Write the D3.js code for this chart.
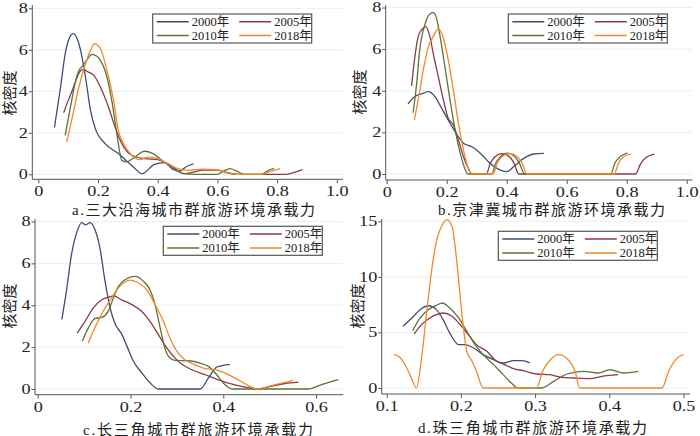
<!DOCTYPE html>
<html lang="zh">
<head>
<meta charset="UTF-8">
<title>核密度</title>
<script src="https://d3js.org/d3.v7.min.js"></script>
<style>
  body { margin: 0; background: #fff; }
  svg { display: block; }
  .tick text { font-family: "Liberation Serif", "DejaVu Serif", serif; font-size: 14px; fill: #222; }
  .tick line { stroke: #555; }
  .axis-line { stroke: #555; stroke-width: 1; }
  .grid { stroke: #eeeeee; stroke-width: 1; }
  .ylab, .title { font-family: "Liberation Serif", "Noto Sans CJK SC", serif; fill: #222; }
  .legend text { font-family: "Liberation Serif", "Noto Sans CJK SC", serif; font-size: 12.5px; fill: #222; }
  .legend rect { fill: #fff; stroke: #555; stroke-width: 1.2; }
</style>
</head>
<body>
<svg width="700" height="436"></svg>
<script>
// series names and colours
const years = ["2000年", "2005年", "2010年", "2018年"];
const colors = ["#3d4f73", "#8a3a48", "#5a7535", "#f0892a"];

// a. 三大沿海城市群  [x, density]
const a2000 = [[0.054,2.25],[0.073,4.05],[0.092,5.96],[0.105,6.6],[0.117,6.78],[0.13,6.55],[0.142,5.96],[0.158,4.69],[0.175,3.08],[0.191,2.2],[0.224,1.48],[0.268,1.0],[0.313,0.43],[0.348,0.03],[0.389,0.48],[0.422,0.56],[0.45,0.25],[0.47,0.15],[0.5,0.4],[0.52,0.5]];
const a2005 = [[0.085,2.97],[0.1,3.55],[0.114,4.05],[0.128,4.6],[0.142,5.0],[0.152,5.06],[0.165,4.95],[0.186,4.77],[0.213,4.05],[0.235,3.24],[0.257,2.28],[0.28,1.48],[0.313,0.92],[0.356,0.76],[0.4,0.71],[0.444,0.43],[0.488,0.03],[0.52,0.1],[0.55,0.2],[0.6,0.2],[0.64,0.05],[0.67,0],[0.83,0],[0.86,0.1],[0.885,0.22]];
const a2010 = [[0.09,1.88],[0.102,2.8],[0.114,3.73],[0.125,4.5],[0.136,5.0],[0.147,5.2],[0.162,5.5],[0.18,5.78],[0.195,5.7],[0.208,5.49],[0.23,4.69],[0.246,3.57],[0.263,1.96],[0.28,0.67],[0.296,0.6],[0.323,0.83],[0.356,1.11],[0.384,1.0],[0.422,0.59],[0.455,0.27],[0.488,0.03],[0.52,0],[0.6,0],[0.62,0.15],[0.643,0.27],[0.665,0.15],[0.69,0],[0.747,0],[0.77,0.18],[0.79,0.28]];
const a2018 = [[0.095,1.56],[0.114,2.76],[0.136,4.2],[0.158,5.33],[0.175,5.98],[0.189,6.3],[0.2,6.2],[0.208,6.06],[0.23,5.0],[0.252,3.57],[0.268,2.12],[0.285,1.48],[0.313,0.92],[0.34,0.71],[0.367,0.83],[0.4,0.76],[0.433,0.51],[0.466,0.28],[0.5,0.19],[0.55,0.25],[0.6,0.22],[0.63,0.1],[0.66,0],[0.75,0],[0.78,0.15],[0.81,0.28]];

// b. 京津冀城市群
const b2000 = [[0.071,3.37],[0.094,3.72],[0.116,3.85],[0.139,3.96],[0.161,3.72],[0.183,3.16],[0.205,2.6],[0.228,2.03],[0.256,1.48],[0.284,1.31],[0.312,1.0],[0.345,0.51],[0.379,0.19],[0.4,0.11],[0.423,0.35],[0.457,0.75],[0.49,0.96],[0.524,0.99]];
const b2005 = [[0.083,4.23],[0.094,5.64],[0.105,6.6],[0.116,6.92],[0.13,7.08],[0.144,6.6],[0.155,5.8],[0.172,4.68],[0.189,3.56],[0.205,2.68],[0.222,2.36],[0.239,1.63],[0.256,0.83],[0.272,0.27],[0.284,0],[0.332,0],[0.345,0.5],[0.36,0.82],[0.385,0.98],[0.41,0.82],[0.425,0.5],[0.44,0],[0.83,0],[0.845,0.45],[0.865,0.8],[0.892,0.96]];
const b2010 = [[0.088,2.95],[0.1,4.36],[0.11,5.96],[0.127,7.16],[0.144,7.69],[0.155,7.75],[0.166,7.49],[0.178,6.6],[0.194,5.16],[0.211,3.56],[0.228,2.12],[0.245,1.0],[0.262,0.2],[0.27,0],[0.35,0],[0.363,0.5],[0.378,0.82],[0.403,1.0],[0.428,0.82],[0.443,0.5],[0.46,0],[0.747,0],[0.76,0.5],[0.78,0.85],[0.803,1.02]];
const b2018 = [[0.092,2.6],[0.105,3.56],[0.122,5.0],[0.139,6.12],[0.155,6.6],[0.172,6.97],[0.189,6.52],[0.205,5.48],[0.222,4.04],[0.239,2.44],[0.256,1.15],[0.272,0.27],[0.284,0],[0.355,0],[0.368,0.5],[0.383,0.82],[0.41,0.98],[0.437,0.82],[0.452,0.5],[0.468,0],[0.758,0],[0.772,0.5],[0.792,0.85],[0.814,0.95]];

// c. 长三角城市群
const c2000 = [[0.052,3.33],[0.062,4.69],[0.073,6.44],[0.084,7.47],[0.095,7.95],[0.103,7.84],[0.113,7.95],[0.123,7.63],[0.134,6.75],[0.145,5.16],[0.156,3.88],[0.167,3.1],[0.181,2.62],[0.192,2.06],[0.206,1.34],[0.224,0.78],[0.242,0.3],[0.26,0],[0.35,0],[0.368,0.53],[0.386,1.05],[0.4,1.13],[0.414,1.16]];
const c2005 = [[0.085,2.67],[0.102,3.23],[0.12,3.87],[0.138,4.26],[0.156,4.41],[0.163,4.45],[0.181,4.26],[0.203,4.03],[0.224,3.71],[0.242,3.23],[0.26,2.6],[0.278,1.96],[0.303,1.32],[0.332,0.92],[0.361,0.68],[0.389,0.44],[0.425,0.2],[0.45,0.08],[0.472,0],[0.5,0.12],[0.53,0.25],[0.562,0.33]];
const c2010 = [[0.096,2.28],[0.109,2.91],[0.123,3.36],[0.138,3.42],[0.152,3.71],[0.163,4.35],[0.174,4.9],[0.188,5.22],[0.21,5.38],[0.228,5.14],[0.242,4.74],[0.253,4.03],[0.264,2.91],[0.274,1.96],[0.285,1.48],[0.296,1.37],[0.325,1.35],[0.35,1.24],[0.368,1.08],[0.386,0.68],[0.4,0.29],[0.42,0],[0.583,0],[0.61,0.2],[0.648,0.45]];
const c2018 = [[0.109,2.2],[0.123,2.91],[0.141,3.71],[0.159,4.35],[0.177,4.9],[0.199,5.2],[0.217,5.06],[0.235,4.74],[0.253,4.03],[0.271,3.23],[0.285,2.44],[0.3,1.8],[0.317,1.4],[0.339,1.16],[0.361,0.97],[0.382,0.92],[0.404,0.76],[0.432,0.44],[0.455,0.15],[0.472,0],[0.51,0.2],[0.551,0.41]];

// d. 珠三角城市群
const d2000 = [[0.122,5.55],[0.134,6.3],[0.145,7.05],[0.156,7.4],[0.167,7.05],[0.176,6.15],[0.185,4.95],[0.197,3.9],[0.205,3.9],[0.217,3.6],[0.23,3.0],[0.244,2.55],[0.257,2.25],[0.271,2.46],[0.282,2.46],[0.293,2.25]];
const d2005 = [[0.137,4.86],[0.147,5.7],[0.158,6.3],[0.167,6.6],[0.176,6.75],[0.188,6.45],[0.199,5.7],[0.21,4.8],[0.221,3.9],[0.235,3.3],[0.248,2.4],[0.259,2.1],[0.271,1.74],[0.284,1.56],[0.302,1.26],[0.32,1.2],[0.336,0.96],[0.352,0.9],[0.374,0.84],[0.39,1.05],[0.412,1.2]];
const d2010 = [[0.135,5.16],[0.145,6.3],[0.156,7.05],[0.167,7.44],[0.175,7.65],[0.185,7.2],[0.197,6.3],[0.208,5.1],[0.219,3.9],[0.23,3.0],[0.244,2.1],[0.257,1.2],[0.268,0.45],[0.277,0],[0.309,0],[0.325,0.6],[0.343,1.26],[0.365,1.5],[0.385,1.35],[0.401,1.65],[0.419,1.35],[0.439,1.5]];
const d2018 = [[0.11,3.0],[0.118,2.75],[0.127,1.8],[0.134,0.8],[0.14,0],[0.147,2.7],[0.154,6.9],[0.161,10.8],[0.167,13.2],[0.174,14.55],[0.181,15.15],[0.188,14.55],[0.194,11.7],[0.201,6.9],[0.208,3.3],[0.215,2.4],[0.221,1.5],[0.23,0],[0.302,0],[0.31,1.5],[0.32,2.5],[0.332,3.0],[0.345,2.5],[0.354,1.5],[0.36,0],[0.471,0],[0.48,1.5],[0.49,2.6],[0.5,3.0]];

// axis ticks and labels
const xTicksAB = [0, 0.2, 0.4, 0.6, 0.8, 1.0];
const xLabelsAB = ["0", "0.2", "0.4", "0.6", "0.8", "1.0"];
const xTicksC = [0, 0.2, 0.4, 0.6];
const xLabelsC = ["0", "0.2", "0.4", "0.6"];
const xTicksD = [0.1, 0.2, 0.3, 0.4, 0.5];
const xLabelsD = ["0.1", "0.2", "0.3", "0.4", "0.5"];
const yTicks8 = [0, 2, 4, 6, 8];
const yTicks15 = [0, 5, 10, 15];
const titles = ["a.三大沿海城市群旅游环境承载力", "b.京津冀城市群旅游环境承载力",
                "c.长三角城市群旅游环境承载力", "d.珠三角城市群旅游环境承载力"];
const yTitle = "核密度";

// panel layout (pixel boxes)
const panels = [
    {series: [a2000, a2005, a2010, a2018], xDom: [0, 1], xRange: [38.3, 336.8], yDom: [0, 8], yRange: [174.3, 8.3],
     xTicks: xTicksAB, xLabels: xLabelsAB, yTicks: yTicks8, box: [32.3, 5, 343, 179.3],
     title: titles[0], tx: 193.5, ty: 210, tw: 243, ylx: 10, yly: 93, lx: 152.7, ly: 14},
    {series: [b2000, b2005, b2010, b2018], xDom: [0, 1], xRange: [386.7, 686.7], yDom: [0, 8], yRange: [174, 7.5],
     xTicks: xTicksAB, xLabels: xLabelsAB, yTicks: yTicks8, box: [385.7, 5, 692.7, 180],
     title: titles[1], tx: 551.5, ty: 210, tw: 227, ylx: 360, yly: 92, lx: 508.3, ly: 14},
    {series: [c2000, c2005, c2010, c2018], xDom: [0, 0.6], xRange: [37.7, 316.1], yDom: [0, 8], yRange: [389, 221.5],
     xTicks: xTicksC, xLabels: xLabelsC, yTicks: yTicks8, box: [35, 219, 343.3, 394.7],
     title: titles[2], tx: 198, ty: 429.5, tw: 230, ylx: 10, yly: 306, lx: 163.3, ly: 226.3},
    {series: [d2000, d2005, d2010, d2018], xDom: [0.1, 0.5], xRange: [386.7, 683.5], yDom: [0, 15], yRange: [388, 221.3],
     xTicks: xTicksD, xLabels: xLabelsD, yTicks: yTicks15, box: [381.7, 219, 690, 394],
     title: titles[3], tx: 532.5, ty: 427.5, tw: 229, ylx: 358, yly: 306, lx: 498.3, ly: 231.3}
];

const svg = d3.select("svg");
const sx = 1.3; // tick labels are drawn wide in the original

panels.forEach(p => {
    const x = d3.scaleLinear().domain(p.xDom).range(p.xRange);
    const y = d3.scaleLinear().domain(p.yDom).range(p.yRange);
    const [l, t, r, b] = p.box;
    const g = svg.append("g");

    // grid lines
    g.selectAll(".grid").data(p.yTicks).enter().append("line")
        .attr("class", "grid")
        .attr("x1", l + 1).attr("x2", r)
        .attr("y1", d => y(d)).attr("y2", d => y(d));

    // axes
    const xAxis = g.append("g").attr("transform", `translate(0,${b})`)
        .call(d3.axisBottom(x).tickValues(p.xTicks).tickFormat((d, i) => p.xLabels[i]).tickSize(4).tickPadding(3));
    xAxis.select(".domain").remove();
    xAxis.selectAll("text").attr("transform", `scale(${sx},1)`);

    const yAxis = g.append("g").attr("transform", `translate(${l},0)`)
        .call(d3.axisLeft(y).tickValues(p.yTicks).tickFormat(d3.format("d")).tickSize(3.5));
    yAxis.select(".domain").remove();
    yAxis.selectAll("text").attr("x", -4.5 / sx).attr("transform", `scale(${sx},1)`);

    g.append("line").attr("class", "axis-line").attr("x1", l).attr("x2", l).attr("y1", t).attr("y2", b);
    g.append("line").attr("class", "axis-line").attr("x1", l).attr("x2", r).attr("y1", b).attr("y2", b);

    // density curves
    const line = d3.line().x(d => x(d[0])).y(d => y(d[1])).curve(d3.curveMonotoneX);
    g.selectAll(".kd").data(p.series).enter().append("path")
        .attr("d", line)
        .attr("fill", "none")
        .attr("stroke", (d, i) => colors[i])
        .attr("stroke-width", 1.3);

    // y title
    g.append("text").attr("class", "ylab")
        .attr("transform", `translate(${p.ylx},${p.yly}) rotate(-90)`)
        .attr("text-anchor", "middle").attr("dominant-baseline", "central")
        .style("font-size", "15px")
        .text(yTitle);

    // panel title, spread to the width it has in the original
    g.append("text").attr("class", "title")
        .attr("x", p.tx).attr("y", p.ty)
        .attr("text-anchor", "middle").attr("dominant-baseline", "central")
        .attr("textLength", p.tw).attr("lengthAdjust", "spacing")
        .style("font-size", "15px")
        .text(p.title);

    // legend
    const lg = g.append("g").attr("class", "legend").attr("transform", `translate(${p.lx},${p.ly})`);
    lg.append("rect").attr("width", 159).attr("height", 29);
    years.forEach((yr, i) => {
        const cx = (i % 2) * 82.5;
        const cy = i < 2 ? 7.7 : 21.6;
        lg.append("line")
            .attr("x1", cx + 4).attr("x2", cx + 36).attr("y1", cy).attr("y2", cy)
            .attr("stroke", colors[i]).attr("stroke-width", 1.5);
        lg.append("text")
            .attr("x", cx + 39).attr("y", cy)
            .attr("dominant-baseline", "central")
            .text(yr);
    });
});
</script>
</body>
</html>
